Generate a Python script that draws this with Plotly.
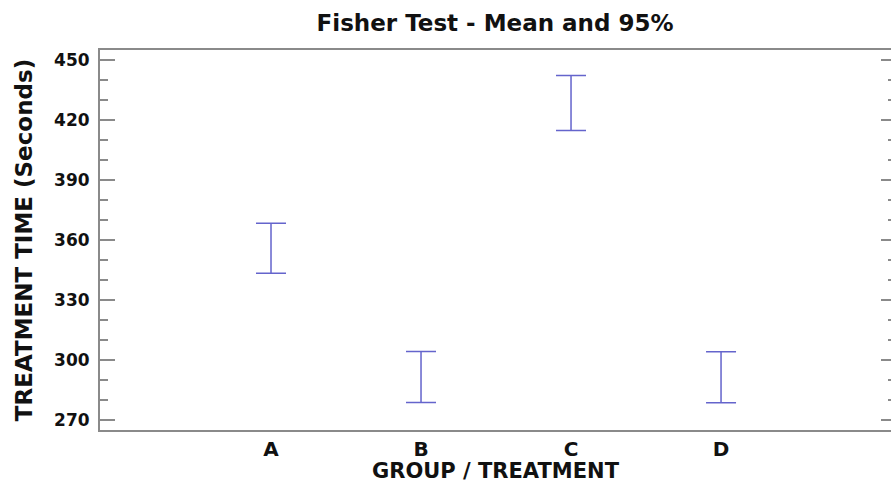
import plotly.graph_objects as go

# Fisher LSD intervals per treatment group
groups = ["A", "B", "C", "D"]
means = [355.9, 291.5, 428.5, 291.4]
half_widths = [12.5, 12.75, 13.75, 12.75]

y_ticks = [270, 300, 330, 360, 390, 420, 450]

FONT = "DejaVu Sans, Liberation Sans, Arial, sans-serif"
AXIS_GRAY = "#8a8a8a"
BAR_COLOR = "#6464cc"

fig = go.Figure()
fig.add_trace(go.Scatter(
    x=list(range(len(groups))),
    y=means,
    mode="markers",
    marker=dict(size=1, color="rgba(0,0,0,0)"),
    error_y=dict(type="data", array=half_widths, symmetric=True,
                 color=BAR_COLOR, thickness=1.5, width=15),
    showlegend=False,
    hoverinfo="skip",
))
# invisible companion trace so the right-hand tick axis is drawn
fig.add_trace(go.Scatter(x=[0], y=[means[0]], yaxis="y2", mode="markers",
                         marker=dict(size=1, color="rgba(0,0,0,0)"),
                         showlegend=False, hoverinfo="skip"))

fig.update_layout(
    width=891, height=483,
    margin=dict(l=100, r=0, t=50, b=53),
    paper_bgcolor="white", plot_bgcolor="white",
    font=dict(family=FONT, color="#111111"),
    title=dict(text="<b>Fisher Test - Mean and 95%</b>", x=0.5556, xanchor="center",
               y=0.953, yanchor="middle", font=dict(size=23, color="#111111")),
    xaxis=dict(
        range=[-1.14, 4.133], tickvals=list(range(len(groups))),
        ticktext=[f"<b>{g}</b>" for g in groups],
        showline=True, linecolor=AXIS_GRAY, linewidth=2, mirror=True,
        ticks="", showgrid=False, zeroline=False,
        tickfont=dict(size=20),
        title=dict(text="<b>GROUP / TREATMENT</b>", font=dict(size=21), standoff=7),
    ),
    yaxis=dict(
        range=[265, 455], tickvals=y_ticks,
        ticktext=[f"<b>{v}</b>" for v in y_ticks],
        showline=True, linecolor=AXIS_GRAY, linewidth=2,
        ticks="inside", ticklen=15, tickcolor=AXIS_GRAY, tickwidth=1.5,
        minor=dict(dtick=10, tick0=0, ticks="inside", ticklen=8,
                   tickcolor=AXIS_GRAY, tickwidth=1.5),
        showgrid=False, zeroline=False,
        tickfont=dict(size=17), ticklabelstandoff=5,
        title=dict(text="<b>TREATMENT TIME (Seconds)</b>", font=dict(size=23), standoff=15),
    ),
    yaxis2=dict(
        range=[265, 455], overlaying="y", side="right", anchor="x",
        tickvals=y_ticks, showticklabels=False,
        showline=False, ticks="inside", ticklen=10, tickcolor=AXIS_GRAY, tickwidth=1.5,
        minor=dict(dtick=10, tick0=0, ticks="inside", ticklen=3,
                   tickcolor=AXIS_GRAY, tickwidth=1.5),
        showgrid=False, zeroline=False,
    ),
)

fig.write_html("out.html")
